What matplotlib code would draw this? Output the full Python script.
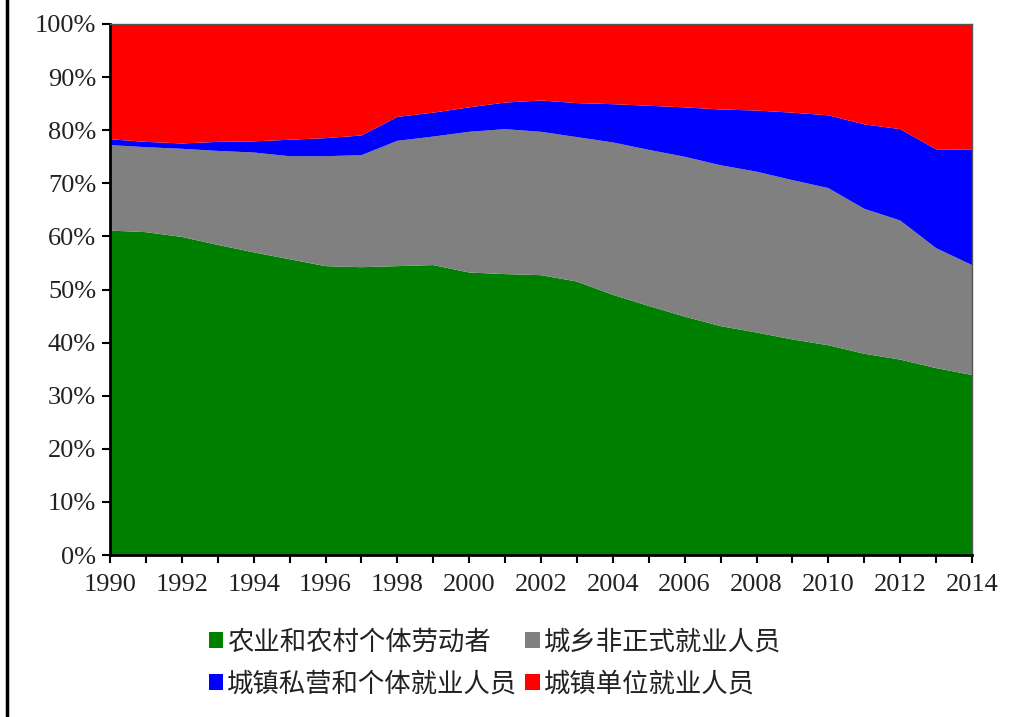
import matplotlib.pyplot as plt
from matplotlib.lines import Line2D
from matplotlib.ticker import MultipleLocator, FuncFormatter

years = list(range(1990, 2015))

# cumulative shares (%)
green_top = [61.1, 60.8, 59.9, 58.4, 57.0, 55.7, 54.4, 54.2, 54.4, 54.6, 53.2, 52.9, 52.7,
             51.5, 49.0, 46.9, 44.9, 43.1, 41.9, 40.6, 39.5, 37.9, 36.8, 35.2, 33.9]
gray_top = [77.2, 76.8, 76.5, 76.1, 75.8, 75.1, 75.1, 75.3, 78.0, 78.8, 79.7, 80.2, 79.7,
            78.7, 77.7, 76.3, 75.0, 73.4, 72.2, 70.6, 69.1, 65.2, 63.0, 57.8, 54.6]
blue_top = [78.3, 77.8, 77.5, 77.8, 77.9, 78.2, 78.5, 79.0, 82.5, 83.3, 84.3, 85.2, 85.6,
            85.1, 84.9, 84.6, 84.3, 83.9, 83.7, 83.3, 82.8, 81.1, 80.2, 76.4, 76.3]

agri = green_top
informal = [g - a for g, a in zip(gray_top, green_top)]
private = [b - g for b, g in zip(blue_top, gray_top)]
unit = [100 - b for b in blue_top]

labels = ['农业和农村个体劳动者', '城乡非正式就业人员', '城镇私营和个体就业人员', '城镇单位就业人员']
colors = ['#008000', '#808080', '#0000FF', '#FF0000']

plt.rcParams['font.family'] = ['Liberation Serif', 'Noto Sans CJK SC']

fig = plt.figure(figsize=(10.26, 7.17), dpi=100)
ax = fig.add_axes([110 / 1026, 1 - 555 / 717, 862 / 1026, 531 / 717])

polys = ax.stackplot(years, agri, informal, private, unit, colors=colors, labels=labels, lw=0)

ax.set_xlim(1990, 2014)
ax.set_ylim(0, 100)
ax.xaxis.set_major_locator(MultipleLocator(2))
ax.xaxis.set_minor_locator(MultipleLocator(1))
ax.yaxis.set_major_locator(MultipleLocator(10))
ax.yaxis.set_major_formatter(FuncFormatter(lambda v, p: f'{v:.0f}%'))
ax.tick_params(axis='both', labelsize=19, direction='out', width=1.5, length=6, colors='black')
ax.tick_params(axis='x', which='minor', direction='out', width=1.5, length=6)
ax.tick_params(axis='x', pad=8)
ax.tick_params(axis='y', pad=4)
for lab in ax.get_xticklabels() + ax.get_yticklabels():
    lab.set_color('#222222')

for side in ['left', 'bottom']:
    ax.spines[side].set_linewidth(2)
    ax.spines[side].set_color('black')
for side in ['top', 'right']:
    ax.spines[side].set_linewidth(1)
    ax.spines[side].set_color('#555555')

# legend fills column by column, so reorder to get row 1: agri, informal
order = [0, 2, 1, 3]
leg = fig.legend(handles=[polys[i] for i in order], labels=[labels[i] for i in order],
                 ncol=2, loc='center',
                 bbox_to_anchor=(495 / 1026, 1 - 663 / 717), frameon=False,
                 prop={'family': ['Noto Sans CJK SC'], 'size': 19},
                 handlelength=0.55, handleheight=0.55, handletextpad=0.15,
                 columnspacing=0.3, labelspacing=0.55)
for t in leg.get_texts():
    t.set_color('#222222')

# black rule down the left edge of the picture
fig.add_artist(Line2D([7 / 1026, 7 / 1026], [0, 1], color='black', lw=2.5, transform=fig.transFigure))

fig.savefig('out.png', dpi=100)
